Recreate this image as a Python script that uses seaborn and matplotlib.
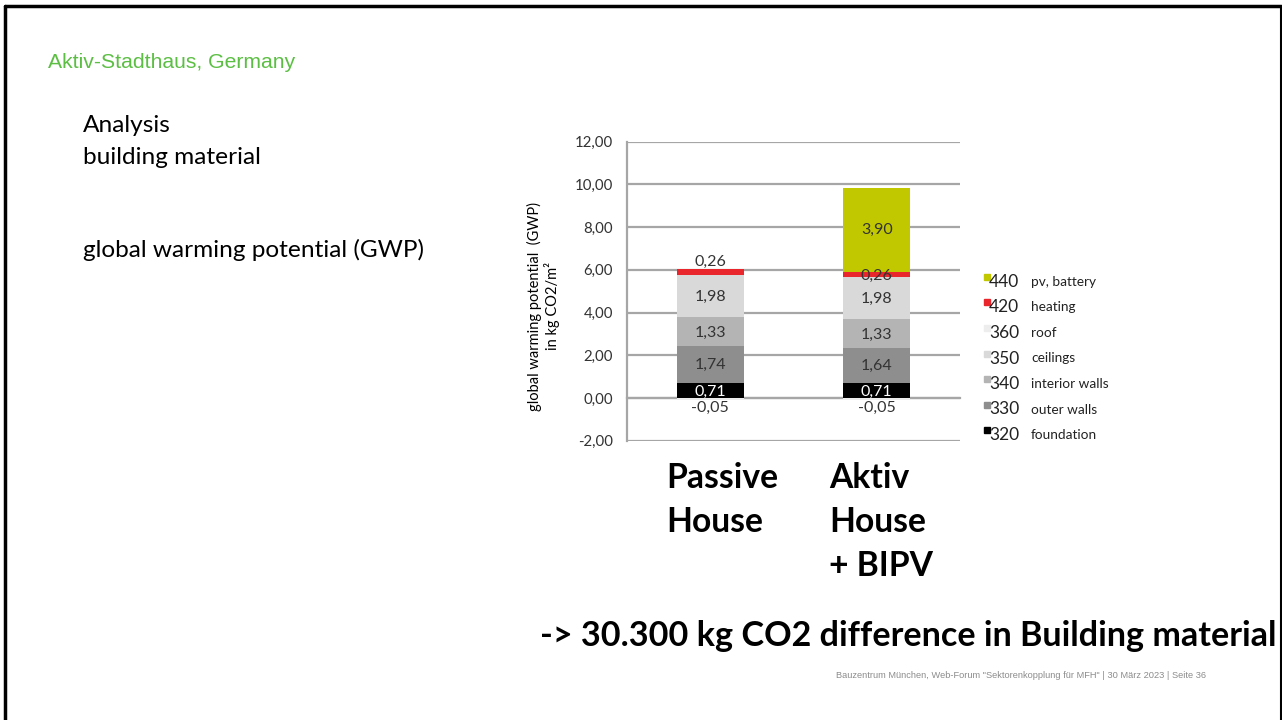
import matplotlib
matplotlib.use("Agg")
import matplotlib.pyplot as plt
from matplotlib.lines import Line2D
from matplotlib.patches import Rectangle
from matplotlib.ticker import FuncFormatter
import seaborn as sns
import numpy as np
import pandas as pd

sns.set_theme(style="white")
plt.rcParams['font.family'] = ['Lato', 'DejaVu Sans']

# ---------------- data ----------------
categories = ["Passive House", "Aktiv House + BIPV"]
foundation = [0.71, 0.71]
outer_walls = [1.74, 1.64]
interior_walls = [1.33, 1.33]
ceilings = [1.98, 1.98]
heating = [0.26, 0.26]
pv_battery = [0.00, 3.90]
roof = [-0.05, -0.05]

cat_lines = [["Passive", "House"], ["Aktiv", "House", "+ BIPV"]]
legend_codes = ["440", "420", "360", "350", "340", "330", "320"]
legend_names = ["pv, battery", "heating", "roof", "ceilings", "interior walls", "outer walls", "foundation"]
yticks = [-2, 0, 2, 4, 6, 8, 10, 12]

col_found = "#000000"
col_outer = "#8e8e8e"
col_inter = "#b4b4b4"
col_ceil = "#d9d9d9"
col_roof = "#ededed"
col_heat = "#e8262b"
col_pv = "#c2c800"
legend_colors = [col_pv, col_heat, col_roof, col_ceil, col_inter, col_outer, col_found]

W, H = 1282, 720
fig = plt.figure(figsize=(W / 100, H / 100), dpi=100)
fig.patch.set_facecolor("white")

def fx(px):
    return px / W

def fy(py):
    return 1 - py / H

# frame lines
fig.add_artist(Line2D([fx(5), fx(1281)], [fy(5.5), fy(5.5)], color="black", lw=2.5))
fig.add_artist(Line2D([fx(5), fx(5)], [fy(5.5), fy(720)], color="black", lw=2.5))
fig.add_artist(Line2D([fx(1280.5), fx(1280.5)], [fy(5.5), fy(720)], color="black", lw=1.5))

# texts on slide
fig.text(fx(48), fy(62), "Aktiv-Stadthaus, Germany", color="#5cbf44",
         family=["Liberation Sans"], fontsize=15.2, va="center", ha="left")
fig.text(fx(83), fy(125), "Analysis", fontsize=17.6, va="center", ha="left", color="black")
fig.text(fx(83), fy(157), "building material", fontsize=17.6, va="center", ha="left", color="black")
fig.text(fx(83), fy(250), "global warming potential (GWP)", fontsize=17.6, va="center", ha="left", color="black")

# ---------------- chart ----------------
ax = fig.add_axes([fx(627), fy(440.7), fx(960) - fx(627), fy(141.7) - fy(440.7)])

layers = [foundation, outer_walls, interior_walls, ceilings, heating, pv_battery]
layer_cols = [col_found, col_outer, col_inter, col_ceil, col_heat, col_pv]
cums = np.cumsum(np.array(layers), axis=0)

# draw tallest first so each lower layer overlays the upper ones
for i in range(len(layers) - 1, -1, -1):
    df = pd.DataFrame({"cat": categories, "val": cums[i]})
    sns.barplot(data=df, x="cat", y="val", color=layer_cols[i], width=0.4,
                saturation=1, ax=ax, zorder=3, edgecolor="none")
df_roof = pd.DataFrame({"cat": categories, "val": roof})
sns.barplot(data=df_roof, x="cat", y="val", color=col_roof, width=0.4,
            saturation=1, ax=ax, zorder=3, edgecolor="none")

# value labels
lab_col = "#333333"
fs_val = 11.5
for j in range(len(categories)):
    bottoms = np.concatenate([[0], cums[:, j]])
    ax.text(j, 0.27, f"{foundation[j]:.2f}".replace(".", ","), ha="center", va="center",
            color="white", fontsize=fs_val, zorder=5)
    for k, vals in [(1, outer_walls), (2, interior_walls), (3, ceilings)]:
        mid = bottoms[k] + vals[j] / 2
        ax.text(j, mid - 0.05, f"{vals[j]:.2f}".replace(".", ","), ha="center", va="center",
                color=lab_col, fontsize=fs_val, zorder=5)
    if pv_battery[j] > 0:
        ax.text(j, bottoms[4] + heating[j] / 2 - 0.08, f"{heating[j]:.2f}".replace(".", ","),
                ha="center", va="center", color=lab_col, fontsize=fs_val, zorder=5)
        ax.text(j, bottoms[5] + pv_battery[j] / 2, f"{pv_battery[j]:.2f}".replace(".", ","),
                ha="center", va="center", color=lab_col, fontsize=fs_val, zorder=5)
    else:
        ax.text(j, bottoms[5] + 0.37, f"{heating[j]:.2f}".replace(".", ","),
                ha="center", va="center", color=lab_col, fontsize=fs_val, zorder=5)
    ax.text(j, roof[j] - 0.40, f"{roof[j]:.2f}".replace(".", ","), ha="center", va="center",
            color=lab_col, fontsize=fs_val, zorder=5)

ax.set_ylim(-2, 12)
ax.set_xlim(-0.5, 1.5)
ax.set_yticks(yticks)
ax.yaxis.set_major_formatter(FuncFormatter(lambda v, p: f"{v:.2f}".replace(".", ",")))
ax.tick_params(axis="y", labelsize=10.8, labelcolor="#333333", length=0, pad=10)
ax.set_xticks([-0.5, 0.5, 1.5])
ax.set_xticklabels(["", "", ""])
ax.tick_params(axis="x", length=4, width=1.2, color="#a6a6a6", direction="out")
ax.set_xlabel("")
ax.set_ylabel("global warming potential  (GWP)\nin kg CO2/m²", fontsize=10.5, color="black",
              linespacing=1.15)
ax.yaxis.set_label_coords(-0.2, 0.45)
ax.grid(axis="y", color="#a6a6a6", lw=1.6, zorder=0)
ax.set_axisbelow(True)
for s in ["top", "right"]:
    ax.spines[s].set_visible(False)
ax.spines["left"].set_color("#a6a6a6")
ax.spines["left"].set_linewidth(1.6)
ax.spines["bottom"].set_position(("data", 0))
ax.spines["bottom"].set_color("#a6a6a6")
ax.spines["bottom"].set_linewidth(1.6)
ax.set_facecolor("white")

# legend (manual)
for i, (code, name, c) in enumerate(zip(legend_codes, legend_names, legend_colors)):
    yc = 282 + i * 25.5
    fig.add_artist(Rectangle((fx(984), fy(yc - 2)), fx(6), fy(0) - fy(6), color=c,
                             transform=fig.transFigure))
    fig.text(fx(989), fy(yc), code, fontsize=12.5, va="center", ha="left", color="#222222")
    fig.text(fx(1031), fy(yc), name, fontsize=9.8, va="center", ha="left", color="#222222")

# category labels
cat_x = [666, 829]
for x0, lines in zip(cat_x, cat_lines):
    for i, t in enumerate(lines):
        fig.text(fx(x0), fy(478 + i * 44), t, fontsize=24.2, fontweight="bold",
                 va="center", ha="left", color="black")

fig.text(fx(540), fy(636), "-> 30.300 kg CO2 difference in Building material",
         fontsize=24.6, fontweight="bold", va="center", ha="left", color="black")
fig.text(fx(836), fy(676), "Bauzentrum München, Web-Forum \"Sektorenkopplung für MFH\" | 30 März 2023 | Seite 36",
         family=["Liberation Sans"], fontsize=6.7, color="#8c8c8c", va="center", ha="left")

fig.savefig("out.png", dpi=100, facecolor="white")
